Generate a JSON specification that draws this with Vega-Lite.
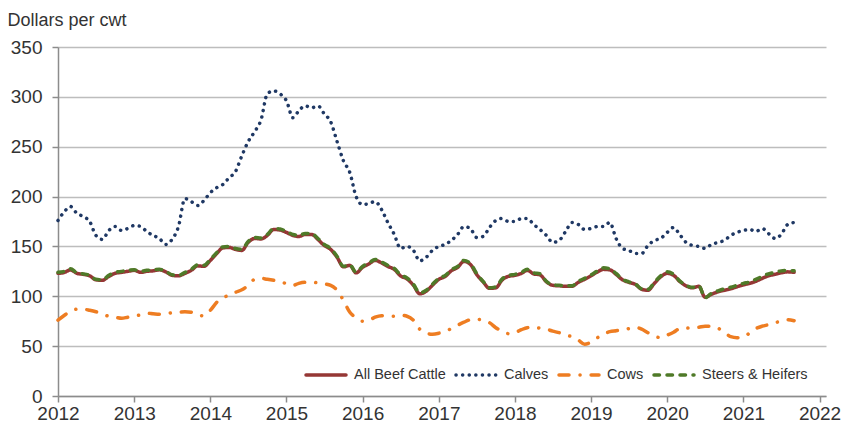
{
  "$schema": "https://vega.github.io/schema/vega-lite/v6.json",
  "width": 768,
  "height": 349,
  "autosize": {"type": "none"},
  "padding": {"left": 58, "top": 47, "right": 21, "bottom": 30},
  "background": "white",
  "config": {"view": {"stroke": null}, "font": "Liberation Sans"},
  "data": {"values": [
    {"date":"2012-01-01","All Beef Cattle":123,"Calves":176,"Cows":76,"Steers & Heifers":124},
    {"date":"2012-02-01","All Beef Cattle":124,"Calves":185,"Cows":81,"Steers & Heifers":125},
    {"date":"2012-03-01","All Beef Cattle":126.5,"Calves":190,"Cows":85,"Steers & Heifers":127.5},
    {"date":"2012-04-01","All Beef Cattle":123,"Calves":183,"Cows":87,"Steers & Heifers":123.5},
    {"date":"2012-05-01","All Beef Cattle":122,"Calves":180,"Cows":87,"Steers & Heifers":122.5},
    {"date":"2012-06-01","All Beef Cattle":120.5,"Calves":175,"Cows":86,"Steers & Heifers":121},
    {"date":"2012-07-01","All Beef Cattle":116.5,"Calves":161,"Cows":84.5,"Steers & Heifers":117},
    {"date":"2012-08-01","All Beef Cattle":116,"Calves":157,"Cows":82,"Steers & Heifers":116.5},
    {"date":"2012-09-01","All Beef Cattle":120,"Calves":166,"Cows":80,"Steers & Heifers":121},
    {"date":"2012-10-01","All Beef Cattle":123,"Calves":170,"Cows":79,"Steers & Heifers":124},
    {"date":"2012-11-01","All Beef Cattle":124,"Calves":166,"Cows":78,"Steers & Heifers":125},
    {"date":"2012-12-01","All Beef Cattle":125,"Calves":168,"Cows":79,"Steers & Heifers":126},
    {"date":"2013-01-01","All Beef Cattle":126,"Calves":171,"Cows":80,"Steers & Heifers":126.5},
    {"date":"2013-02-01","All Beef Cattle":124,"Calves":170,"Cows":81.5,"Steers & Heifers":125},
    {"date":"2013-03-01","All Beef Cattle":125,"Calves":165,"Cows":83,"Steers & Heifers":126},
    {"date":"2013-04-01","All Beef Cattle":125.5,"Calves":161,"Cows":82.5,"Steers & Heifers":126.5},
    {"date":"2013-05-01","All Beef Cattle":126.5,"Calves":158,"Cows":82,"Steers & Heifers":127},
    {"date":"2013-06-01","All Beef Cattle":124.5,"Calves":152,"Cows":82.5,"Steers & Heifers":125},
    {"date":"2013-07-01","All Beef Cattle":121,"Calves":157,"Cows":83.5,"Steers & Heifers":121.5},
    {"date":"2013-08-01","All Beef Cattle":120.5,"Calves":170,"Cows":84,"Steers & Heifers":121},
    {"date":"2013-09-01","All Beef Cattle":123,"Calves":198,"Cows":84.5,"Steers & Heifers":124},
    {"date":"2013-10-01","All Beef Cattle":126,"Calves":195,"Cows":84,"Steers & Heifers":127},
    {"date":"2013-11-01","All Beef Cattle":130.5,"Calves":191,"Cows":81,"Steers & Heifers":131.5},
    {"date":"2013-12-01","All Beef Cattle":130,"Calves":196,"Cows":80.5,"Steers & Heifers":131},
    {"date":"2014-01-01","All Beef Cattle":136,"Calves":204,"Cows":86,"Steers & Heifers":137},
    {"date":"2014-02-01","All Beef Cattle":143,"Calves":209,"Cows":94,"Steers & Heifers":144},
    {"date":"2014-03-01","All Beef Cattle":148.5,"Calves":212,"Cows":98.5,"Steers & Heifers":149.5},
    {"date":"2014-04-01","All Beef Cattle":149,"Calves":219,"Cows":101,"Steers & Heifers":150},
    {"date":"2014-05-01","All Beef Cattle":147,"Calves":225,"Cows":104,"Steers & Heifers":148},
    {"date":"2014-06-01","All Beef Cattle":146,"Calves":241,"Cows":106.5,"Steers & Heifers":147},
    {"date":"2014-07-01","All Beef Cattle":154,"Calves":255,"Cows":111,"Steers & Heifers":155},
    {"date":"2014-08-01","All Beef Cattle":158,"Calves":265,"Cows":117,"Steers & Heifers":159},
    {"date":"2014-09-01","All Beef Cattle":157.5,"Calves":277,"Cows":118,"Steers & Heifers":158.5},
    {"date":"2014-10-01","All Beef Cattle":161,"Calves":303,"Cows":117,"Steers & Heifers":162},
    {"date":"2014-11-01","All Beef Cattle":167,"Calves":306,"Cows":116,"Steers & Heifers":168},
    {"date":"2014-12-01","All Beef Cattle":166.5,"Calves":303,"Cows":115,"Steers & Heifers":167.5},
    {"date":"2015-01-01","All Beef Cattle":164,"Calves":296,"Cows":112.5,"Steers & Heifers":165},
    {"date":"2015-02-01","All Beef Cattle":161,"Calves":279,"Cows":111,"Steers & Heifers":162},
    {"date":"2015-03-01","All Beef Cattle":160,"Calves":286,"Cows":113,"Steers & Heifers":161},
    {"date":"2015-04-01","All Beef Cattle":162,"Calves":291,"Cows":114,"Steers & Heifers":163},
    {"date":"2015-05-01","All Beef Cattle":162,"Calves":289,"Cows":114,"Steers & Heifers":163},
    {"date":"2015-06-01","All Beef Cattle":157,"Calves":291,"Cows":113.5,"Steers & Heifers":158},
    {"date":"2015-07-01","All Beef Cattle":151,"Calves":283,"Cows":112.5,"Steers & Heifers":152},
    {"date":"2015-08-01","All Beef Cattle":147,"Calves":275,"Cows":111,"Steers & Heifers":148},
    {"date":"2015-09-01","All Beef Cattle":139,"Calves":255,"Cows":106,"Steers & Heifers":140},
    {"date":"2015-10-01","All Beef Cattle":129.5,"Calves":236,"Cows":96,"Steers & Heifers":130},
    {"date":"2015-11-01","All Beef Cattle":131,"Calves":224,"Cows":84,"Steers & Heifers":131.5},
    {"date":"2015-12-01","All Beef Cattle":123.5,"Calves":200,"Cows":78.5,"Steers & Heifers":124},
    {"date":"2016-01-01","All Beef Cattle":129,"Calves":192,"Cows":75,"Steers & Heifers":130},
    {"date":"2016-02-01","All Beef Cattle":132.5,"Calves":193,"Cows":76,"Steers & Heifers":133.5},
    {"date":"2016-03-01","All Beef Cattle":136,"Calves":195,"Cows":79,"Steers & Heifers":137},
    {"date":"2016-04-01","All Beef Cattle":133.5,"Calves":187,"Cows":80.5,"Steers & Heifers":134.5},
    {"date":"2016-05-01","All Beef Cattle":130,"Calves":174,"Cows":80,"Steers & Heifers":131},
    {"date":"2016-06-01","All Beef Cattle":127,"Calves":162,"Cows":80,"Steers & Heifers":128},
    {"date":"2016-07-01","All Beef Cattle":120.5,"Calves":148,"Cows":81,"Steers & Heifers":121.5},
    {"date":"2016-08-01","All Beef Cattle":117.5,"Calves":150,"Cows":80,"Steers & Heifers":118.5},
    {"date":"2016-09-01","All Beef Cattle":111,"Calves":146,"Cows":76,"Steers & Heifers":112},
    {"date":"2016-10-01","All Beef Cattle":102.5,"Calves":135.5,"Cows":67,"Steers & Heifers":103.5},
    {"date":"2016-11-01","All Beef Cattle":105,"Calves":139,"Cows":63,"Steers & Heifers":106},
    {"date":"2016-12-01","All Beef Cattle":111,"Calves":146,"Cows":62,"Steers & Heifers":112},
    {"date":"2017-01-01","All Beef Cattle":117,"Calves":150,"Cows":63,"Steers & Heifers":118},
    {"date":"2017-02-01","All Beef Cattle":120,"Calves":152,"Cows":65,"Steers & Heifers":121},
    {"date":"2017-03-01","All Beef Cattle":125.5,"Calves":156,"Cows":67.5,"Steers & Heifers":126.5},
    {"date":"2017-04-01","All Beef Cattle":129,"Calves":162,"Cows":71,"Steers & Heifers":130},
    {"date":"2017-05-01","All Beef Cattle":135,"Calves":170,"Cows":74,"Steers & Heifers":136},
    {"date":"2017-06-01","All Beef Cattle":132,"Calves":168,"Cows":76.5,"Steers & Heifers":133},
    {"date":"2017-07-01","All Beef Cattle":122,"Calves":159,"Cows":77,"Steers & Heifers":123},
    {"date":"2017-08-01","All Beef Cattle":114.5,"Calves":160,"Cows":76,"Steers & Heifers":115},
    {"date":"2017-09-01","All Beef Cattle":108,"Calves":169,"Cows":73.5,"Steers & Heifers":108.5},
    {"date":"2017-10-01","All Beef Cattle":108.5,"Calves":176,"Cows":68.5,"Steers & Heifers":109.5},
    {"date":"2017-11-01","All Beef Cattle":116.5,"Calves":178,"Cows":65,"Steers & Heifers":117.5},
    {"date":"2017-12-01","All Beef Cattle":120,"Calves":175,"Cows":62.5,"Steers & Heifers":121},
    {"date":"2018-01-01","All Beef Cattle":121,"Calves":175,"Cows":63.5,"Steers & Heifers":122},
    {"date":"2018-02-01","All Beef Cattle":123,"Calves":178,"Cows":66.5,"Steers & Heifers":124},
    {"date":"2018-03-01","All Beef Cattle":126,"Calves":178,"Cows":68.5,"Steers & Heifers":127},
    {"date":"2018-04-01","All Beef Cattle":122.5,"Calves":172,"Cows":69,"Steers & Heifers":123.5},
    {"date":"2018-05-01","All Beef Cattle":121.5,"Calves":167,"Cows":68,"Steers & Heifers":122.5},
    {"date":"2018-06-01","All Beef Cattle":114.5,"Calves":161,"Cows":67,"Steers & Heifers":115},
    {"date":"2018-07-01","All Beef Cattle":111,"Calves":154,"Cows":65,"Steers & Heifers":111.5},
    {"date":"2018-08-01","All Beef Cattle":110.5,"Calves":156,"Cows":63.5,"Steers & Heifers":111},
    {"date":"2018-09-01","All Beef Cattle":110,"Calves":165,"Cows":61,"Steers & Heifers":110.5},
    {"date":"2018-10-01","All Beef Cattle":110,"Calves":174,"Cows":59.5,"Steers & Heifers":110.5},
    {"date":"2018-11-01","All Beef Cattle":114,"Calves":172,"Cows":56,"Steers & Heifers":115},
    {"date":"2018-12-01","All Beef Cattle":117,"Calves":167,"Cows":52,"Steers & Heifers":118},
    {"date":"2019-01-01","All Beef Cattle":120.5,"Calves":168,"Cows":54,"Steers & Heifers":121.5},
    {"date":"2019-02-01","All Beef Cattle":124.5,"Calves":170,"Cows":58.5,"Steers & Heifers":125.5},
    {"date":"2019-03-01","All Beef Cattle":127,"Calves":170,"Cows":62,"Steers & Heifers":128.5},
    {"date":"2019-04-01","All Beef Cattle":126.5,"Calves":174,"Cows":64.5,"Steers & Heifers":127.5},
    {"date":"2019-05-01","All Beef Cattle":122,"Calves":158,"Cows":65.5,"Steers & Heifers":123},
    {"date":"2019-06-01","All Beef Cattle":116.5,"Calves":148,"Cows":66.5,"Steers & Heifers":117},
    {"date":"2019-07-01","All Beef Cattle":114,"Calves":146,"Cows":67.5,"Steers & Heifers":114.5},
    {"date":"2019-08-01","All Beef Cattle":112,"Calves":143,"Cows":69,"Steers & Heifers":112.5},
    {"date":"2019-09-01","All Beef Cattle":107,"Calves":143,"Cows":67,"Steers & Heifers":107.5},
    {"date":"2019-10-01","All Beef Cattle":106,"Calves":151,"Cows":63.5,"Steers & Heifers":107},
    {"date":"2019-11-01","All Beef Cattle":113,"Calves":156,"Cows":60,"Steers & Heifers":114},
    {"date":"2019-12-01","All Beef Cattle":119.5,"Calves":158,"Cows":58.5,"Steers & Heifers":120.5},
    {"date":"2020-01-01","All Beef Cattle":123,"Calves":164,"Cows":61,"Steers & Heifers":124.5},
    {"date":"2020-02-01","All Beef Cattle":121,"Calves":169,"Cows":64,"Steers & Heifers":122},
    {"date":"2020-03-01","All Beef Cattle":115,"Calves":162,"Cows":67.5,"Steers & Heifers":115.5},
    {"date":"2020-04-01","All Beef Cattle":110.5,"Calves":154,"Cows":68,"Steers & Heifers":111},
    {"date":"2020-05-01","All Beef Cattle":108.5,"Calves":151,"Cows":68.5,"Steers & Heifers":109},
    {"date":"2020-06-01","All Beef Cattle":110,"Calves":150,"Cows":69,"Steers & Heifers":110.5},
    {"date":"2020-07-01","All Beef Cattle":99,"Calves":148,"Cows":70,"Steers & Heifers":98.5},
    {"date":"2020-08-01","All Beef Cattle":102,"Calves":152,"Cows":70,"Steers & Heifers":103},
    {"date":"2020-09-01","All Beef Cattle":104.5,"Calves":154,"Cows":68,"Steers & Heifers":105.5},
    {"date":"2020-10-01","All Beef Cattle":106,"Calves":156,"Cows":64,"Steers & Heifers":107.5},
    {"date":"2020-11-01","All Beef Cattle":107.5,"Calves":161,"Cows":59.5,"Steers & Heifers":109},
    {"date":"2020-12-01","All Beef Cattle":109.5,"Calves":164,"Cows":58.5,"Steers & Heifers":111},
    {"date":"2021-01-01","All Beef Cattle":111.5,"Calves":166,"Cows":59,"Steers & Heifers":113},
    {"date":"2021-02-01","All Beef Cattle":113,"Calves":167,"Cows":63.5,"Steers & Heifers":114.5},
    {"date":"2021-03-01","All Beef Cattle":115,"Calves":165,"Cows":67.5,"Steers & Heifers":117},
    {"date":"2021-04-01","All Beef Cattle":118,"Calves":168,"Cows":70,"Steers & Heifers":120},
    {"date":"2021-05-01","All Beef Cattle":120.5,"Calves":163,"Cows":71.5,"Steers & Heifers":122.5},
    {"date":"2021-06-01","All Beef Cattle":122,"Calves":158,"Cows":73.5,"Steers & Heifers":124},
    {"date":"2021-07-01","All Beef Cattle":123.5,"Calves":162,"Cows":75,"Steers & Heifers":125.5},
    {"date":"2021-08-01","All Beef Cattle":124.5,"Calves":172,"Cows":76.5,"Steers & Heifers":126},
    {"date":"2021-09-01","All Beef Cattle":124,"Calves":174,"Cows":75.5,"Steers & Heifers":125.5}
  ]},
  "transform": [{"fold": ["All Beef Cattle", "Calves", "Cows", "Steers & Heifers"], "as": ["series", "value"]}],
  "mark": {"type": "line", "interpolate": "monotone", "strokeWidth": 3.5, "strokeCap": "round", "strokeJoin": "round"},
  "encoding": {
    "x": {
      "field": "date", "type": "temporal",
      "scale": {"type": "utc", "domain": [{"year": 2012, "month": 1, "date": 1, "utc": true}, {"year": 2022, "month": 2, "date": 1, "utc": true}]},
      "axis": {
        "values": [{"year": 2012, "utc": true}, {"year": 2013, "utc": true}, {"year": 2014, "utc": true}, {"year": 2015, "utc": true}, {"year": 2016, "utc": true}, {"year": 2017, "utc": true}, {"year": 2018, "utc": true}, {"year": 2019, "utc": true}, {"year": 2020, "utc": true}, {"year": 2021, "utc": true}, {"year": 2022, "utc": true}],
        "format": "%Y", "formatType": "utc",
        "grid": false, "title": null,
        "domainColor": "#8c8c8c", "domainWidth": 1.5,
        "tickColor": "#8c8c8c", "tickWidth": 1.5, "tickSize": 6,
        "labelFontSize": 19, "labelColor": "#333333", "labelPadding": 2,
        "labelFlush": false, "labelOverlap": false
      }
    },
    "y": {
      "field": "value", "type": "quantitative",
      "scale": {"domain": [0, 350], "nice": false},
      "axis": {
        "values": [0, 50, 100, 150, 200, 250, 300, 350],
        "grid": true, "gridColor": "#bdbdbd", "gridWidth": 1.5,
        "domainColor": "#8c8c8c", "domainWidth": 1.5,
        "tickColor": "#8c8c8c", "tickWidth": 1.5, "tickSize": 6,
        "labelFontSize": 19, "labelColor": "#333333", "labelPadding": 10,
        "labelFlush": false,
        "title": "Dollars per cwt", "titleAngle": 0, "titleAlign": "left", "titleBaseline": "alphabetic",
        "titleX": -51, "titleY": -22, "titleFontSize": 18, "titleFontWeight": "normal", "titleColor": "#333333"
      }
    },
    "color": {
      "field": "series", "type": "nominal",
      "scale": {"domain": ["All Beef Cattle", "Calves", "Cows", "Steers & Heifers"], "range": ["#953735", "#1F3864", "#EE7D22", "#4F7A28"]},
      "legend": {
        "orient": "none", "legendX": 246, "legendY": 306, "direction": "horizontal",
        "title": null, "labelFontSize": 14.5, "labelColor": "#333333",
        "symbolType": "stroke", "symbolSize": 1600, "symbolStrokeWidth": 3.5,
        "labelOffset": 6, "columnPadding": 3,
        "encoding": {"symbols": {"strokeCap": {"value": "round"}}}
      }
    },
    "strokeDash": {
      "field": "series", "type": "nominal",
      "scale": {"domain": ["All Beef Cattle", "Calves", "Cows", "Steers & Heifers"], "range": [[1, 0], [0.1, 6.5], [10, 11, 0.1, 11], [5.5, 7.5]]},
      "legend": {
        "orient": "none", "legendX": 246, "legendY": 306, "direction": "horizontal",
        "title": null, "labelFontSize": 14.5, "labelColor": "#333333",
        "symbolType": "stroke", "symbolSize": 1600, "symbolStrokeWidth": 3.5,
        "labelOffset": 6, "columnPadding": 3,
        "encoding": {"symbols": {"strokeCap": {"value": "round"}}}
      }
    }
  }
}
